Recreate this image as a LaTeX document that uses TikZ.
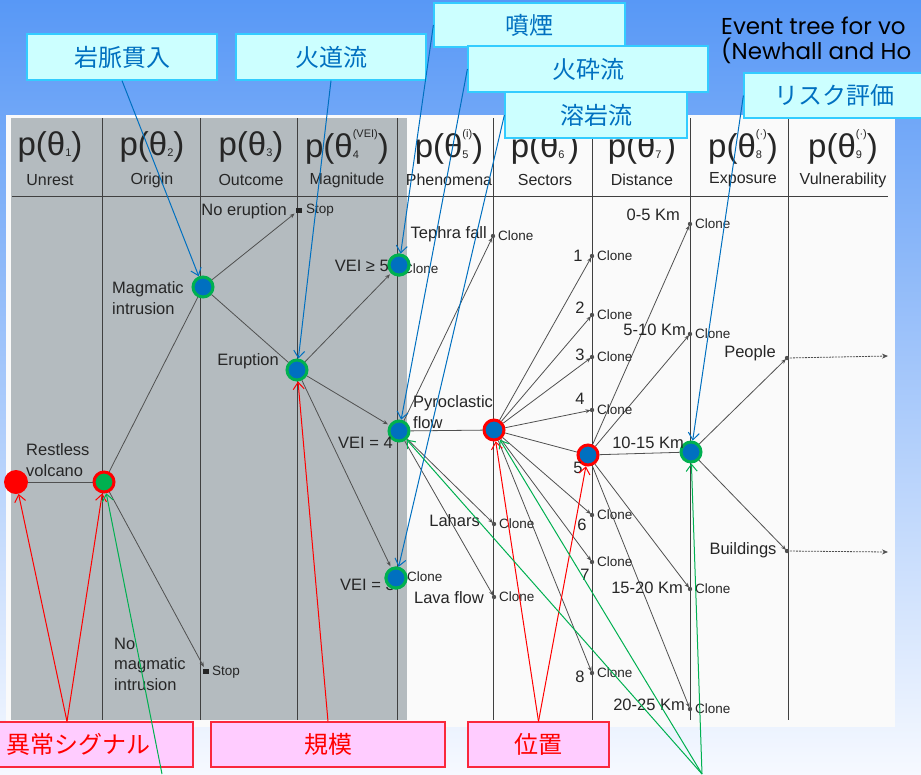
\documentclass[tikz,border=0pt]{standalone}
\usepackage{fontspec}
\usepackage{amsmath}
\setmainfont{Liberation Sans}
\newfontfamily\jpfont{Noto Sans CJK JP}
\newfontfamily\titlefont{Poppins}
\usetikzlibrary{arrows.meta,calc}

\definecolor{bgtop}{RGB}{88,152,246}
\definecolor{bgbot}{RGB}{246,249,255}
\definecolor{panelgray}{RGB}{180,187,191}
\definecolor{treeline}{RGB}{80,80,80}
\definecolor{nblue}{RGB}{0,112,192}
\definecolor{ngreen}{RGB}{0,176,80}
\definecolor{nred}{RGB}{255,0,0}
\definecolor{cyanfill}{RGB}{204,255,255}
\definecolor{cyanedge}{RGB}{51,204,255}
\definecolor{pinkfill}{RGB}{255,204,255}
\definecolor{pinkedge}{RGB}{250,40,60}

\newcommand{\hsub}[2]{{\fontsize{11}{11}\selectfont
  \setbox0=\hbox{#1}\setbox2=\hbox{#2}%
  \ifdim\wd0>\wd2 \wd2=\wd0 \fi
  \rlap{\raisebox{-1pt}{\box0}}\raisebox{20pt}{\box2}}}

\tikzset{
  grid/.style={draw=black!75, line width=1pt},
  branch/.style={draw=treeline, line width=0.8pt},
  tipped/.style={branch, -{Stealth[length=5pt,width=4pt]}, shorten >=1.5pt},
  hdr/.style={font=\fontsize{33}{33}\selectfont, text=black!85, inner sep=0pt},
  colname/.style={font=\fontsize{16}{16}\selectfont, text=black!85, inner sep=0pt},
  lbl/.style={font=\fontsize{16.5}{20.5}\selectfont, text=black!85, inner sep=0pt, align=left},
  clone/.style={font=\fontsize{13.5}{13.5}\selectfont, text=black!85, inner sep=0pt, anchor=west},
  stopsq/.style={fill=black!85, minimum width=6pt, minimum height=5pt, inner sep=0pt},
  hubg/.style={circle, fill=nblue, draw=ngreen, line width=3pt, minimum size=20pt, inner sep=0pt},
  hubr/.style={hubg, draw=nred},
  cbox/.style={draw=cyanedge, fill=cyanfill, line width=1.2pt, text=nblue, inner sep=0pt,
    font=\jpfont\fontsize{24}{24}\selectfont, minimum height=46pt},
  pbox/.style={cbox, draw=pinkedge, fill=pinkfill, text=nred},
  bluearr/.style={draw=nblue, line width=1pt, -{Straight Barb[length=7pt,width=11pt]}},
  redarr/.style={bluearr, draw=nred},
  greenarr/.style={bluearr, draw=ngreen}
}

\begin{document}
\begin{tikzpicture}[x=1pt,y=-1pt]
\useasboundingbox (0,0) rectangle (921,774);
\clip (0,0) rectangle (921,774);
\shade[top color=bgtop, bottom color=bgbot] (0,0) rectangle (921,774);
\fill[white!98!black] (6,115) rectangle (895,727);
\fill[panelgray] (11,118) rectangle (407,720);
\draw[grid] (12,196) -- (888,196);
\foreach \x in {102,200,297,397,493,592,690,788}
\draw[grid] (\x,118) -- (\x,720);

\foreach \colx/\colnum/\colsup/\coltitle in {50/1//Unrest,152/2//Origin,251/3//Outcome,
  347/4/(VEI)/Magnitude,449/5/(i)/Phenomena,545/6/\phantom{(i)}/Sectors,
  642/7/\phantom{(i)}/Distance,743/8/(·)/Exposure,843/9/(·)/Vulnerability}
{
\node[hdr] (h\colnum) at (\colx,147) {p(θ\hsub{\colnum}{\colsup})};
\node[colname] (t\colnum) at (\colx,180) {\coltitle};
}

\coordinate (stopa) at (299,210);
\coordinate (stopb) at (206,671);
\coordinate (tephra) at (493,236);
\coordinate (lahar) at (494,524);
\coordinate (lava) at (494,597);
\coordinate (s1) at (592,256);
\coordinate (s2) at (592,315);
\coordinate (s3) at (592,357);
\coordinate (s4) at (592,410);
\coordinate (s6) at (592,515);
\coordinate (s7) at (592,562);
\coordinate (s8) at (592,673);
\coordinate (d1) at (690,224);
\coordinate (d2) at (690,334);
\coordinate (d4) at (690,589);
\coordinate (d5) at (690,709);
\coordinate (people) at (787,358);
\coordinate (build) at (787,551);
\coordinate (pend) at (888,356);
\coordinate (bend) at (888,552);

\node[circle, fill=nred, minimum size=24pt, inner sep=0pt] (sig) at (16,482) {};
\node[hubg, fill=ngreen, draw=nred] (rest) at (104,482) {};
\node[hubg] (magma) at (203,287) {};
\node[hubg] (erupt) at (297,370) {};
\node[hubg] (vei5) at (399,265) {};
\node[hubg] (vei4) at (399,431) {};
\node[hubg] (vei3) at (396,578) {};
\node[hubr] (pyro) at (494,430) {};
\node[hubr] (sec5) at (588,455) {};
\node[hubg] (dist3) at (691,452) {};

\node[stopsq] (sqa) at (stopa) {};
\node[stopsq] (sqb) at (stopb) {};
\draw[branch] (sig) -- (rest);
\draw[branch] (rest) -- (magma);
\draw[tipped] (rest) -- (sqb);
\draw[tipped] (magma) -- (sqa);
\draw[branch] (magma) -- (erupt);
\draw[tipped] (erupt) -- (vei5);
\draw[tipped] (erupt) -- (vei4);
\draw[tipped] (erupt) -- (vei3);
\draw[tipped] (vei4) -- (tephra);
\draw[branch] (vei4) -- (pyro);
\draw[tipped] (vei4) -- (lahar);
\draw[tipped] (vei4) -- (lava);
\foreach \p in {s1,s2,s3,s4,s6,s7,s8}
\draw[tipped] (pyro) -- (\p);
\draw[branch] (pyro) -- (sec5);
\foreach \p in {d1,d2,d4,d5}
\draw[tipped] (sec5) -- (\p);
\draw[branch] (sec5) -- (dist3);
\draw[tipped] (dist3) -- (people);
\draw[tipped] (dist3) -- (build);
\draw[branch, dash pattern=on 2pt off 1pt, -{Stealth[length=6pt,width=5pt]}] (people) -- (pend);
\draw[branch, dash pattern=on 2pt off 1pt, -{Stealth[length=6pt,width=5pt]}] (build) -- (bend);
\foreach \p in {tephra,lahar,lava,s1,s2,s3,s4,s6,s7,s8,d1,d2,d4,d5,people,build}
\fill[treeline] (\p) circle (2.2pt);

\node[lbl, anchor=west] (lrest) at (26,460) {Restless\\volcano};
\node[lbl, anchor=west] (lmagma) at (112,298) {Magmatic\\intrusion};
\node[lbl, anchor=east] (lnoer) at (287,211) {No eruption};
\node[clone] (lstopa) at (306,210) {Stop};
\node[lbl, anchor=east] (lerupt) at (279,361) {Eruption};
\node[lbl, anchor=west] (lnomag) at (114,664) {No\\magmatic\\intrusion};
\node[clone] (lstopb) at (212,672) {Stop};
\node[lbl, anchor=east] (lvei5) at (389,266) {VEI ≥ 5};
\node[lbl, anchor=east] (lvei4) at (393,443) {VEI = 4};
\node[lbl, anchor=east] (lvei3) at (395,585) {VEI = 3};
\node[lbl, anchor=east] (ltephra) at (487,234) {Tephra fall};
\node[lbl, anchor=west] (lpyro) at (413,412) {Pyroclastic\\flow};
\node[lbl, anchor=east] (llahar) at (480,521) {Lahars};
\node[lbl, anchor=east] (llava) at (484,598) {Lava flow};
\foreach \n/\x/\y in {1/578/256,2/580/308,3/580/355,4/580/399,5/578/468,6/582/525,7/585/575,8/580/677}
\node[lbl] (n\n) at (\x,\y) {\n};
\node[lbl, anchor=east] (k1) at (680,215) {0-5 Km};
\node[lbl, anchor=east] (k2) at (686,330) {5-10 Km};
\node[lbl, anchor=east] (k3) at (684,443) {10-15 Km};
\node[lbl, anchor=east] (k4) at (683,588) {15-20 Km};
\node[lbl, anchor=east] (k5) at (685,705) {20-25 Km};
\node[lbl] (lpeople) at (750,353) {People};
\node[lbl] (lbuild) at (743,550) {Buildings};
\node[clone] (cv5) at (403,269) {Clone};
\node[clone] (cv3) at (407,577) {Clone};
\foreach \p in {tephra,lahar,lava,s1,s2,s3,s4,s6,s7,s8,d1,d2,d4,d5}
\node[clone] (c-\p) at ($(\p)+(5,0)$) {Clone};
\node[hubg] at (vei5) {};
\node[hubg] at (vei3) {};

\node[cbox, minimum width=190pt] (bA) at (122,57) {岩脈貫入};
\node[cbox, minimum width=190pt] (bB) at (331,57) {火道流};
\node[cbox, minimum width=191pt, minimum height=44pt] (bC) at (529.5,25) {噴煙};
\node[cbox, minimum width=240pt] (bD) at (588,69) {火砕流};
\node[cbox, minimum width=182pt] (bE) at (596,115) {溶岩流};
\node[cbox, minimum width=180pt, minimum height=45pt] (bF) at (834,95.5) {リスク評価};
\node[pbox, minimum width=252pt, minimum height=45pt] (pA) at (67,744.5) {\hspace{22pt}異常シグナル};
\node[pbox, minimum width=234pt, minimum height=45pt] (pB) at (328,744.5) {規模};
\node[pbox, minimum width=141pt, minimum height=45pt] (pC) at (538.5,744.5) {位置};

\draw[bluearr] (bA.south) -- (magma);
\draw[bluearr] (bB.south) -- (erupt);
\draw[bluearr] (bC.west) -- (vei5);
\draw[bluearr] (bD.west) -- (vei4);
\draw[bluearr] (bE.west) -- (vei3);
\draw[bluearr] (bF.west) -- (dist3);
\draw[redarr] (pA.north) -- (sig);
\draw[redarr] (pA.north) -- (rest);
\draw[redarr] (pB.north) -- (erupt);
\draw[redarr] (pC.north) -- (pyro);
\draw[redarr] (pC.north) -- (sec5);
\coordinate (gA) at (162,774);
\coordinate (gB) at (702,774);
\draw[greenarr] (gA) -- (rest);
\draw[greenarr] (gB) -- (vei4);
\draw[greenarr] (gB) -- (pyro);
\draw[greenarr] (gB) -- (dist3);

\node[anchor=west, align=left, inner sep=0pt, font=\titlefont\fontsize{23}{25}\selectfont] (title) at (721,40) {Event tree for vo\\(Newhall and Ho};
\end{tikzpicture}
\end{document}
